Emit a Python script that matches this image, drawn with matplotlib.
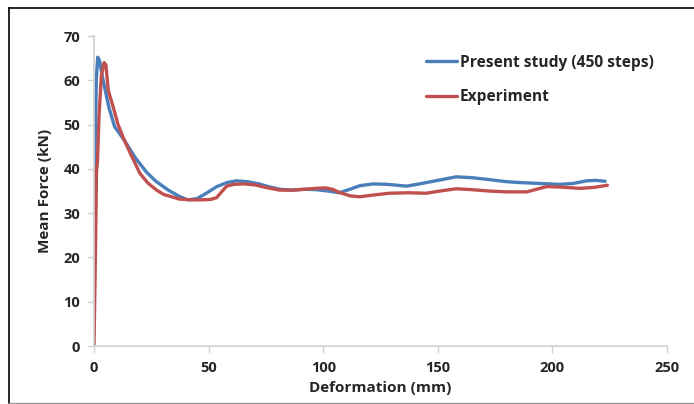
import numpy as np
import matplotlib.pyplot as plt
from matplotlib.lines import Line2D

# data
study_x = [0, 0.5, 1.0, 1.6, 2.4, 3.4, 5, 6.5, 9, 13.2, 18, 23, 27, 32.4, 37.5, 41, 45, 49,
           53.6, 58, 62, 67, 72, 76, 81, 86, 92, 97, 102, 107, 111.7, 116, 121.8, 128, 136.4,
           143, 150, 158, 165, 172, 180, 186, 194.6, 203, 209, 215, 219, 223]
study_y = [29.2, 45, 60, 65.2, 64.5, 61.5, 57.5, 53.9, 49.5, 46.5, 42.5, 39.2, 37.2, 35.2, 33.7,
           33.0, 33.3, 34.5, 36.0, 36.9, 37.3, 37.1, 36.6, 36.0, 35.4, 35.2, 35.4, 35.3, 35.0,
           34.6, 35.4, 36.2, 36.6, 36.5, 36.1, 36.7, 37.4, 38.2, 38.0, 37.6, 37.1, 36.9, 36.7,
           36.5, 36.7, 37.3, 37.4, 37.2]
exp_x = [0, 0.6, 1.1, 1.5, 2.2, 3.2, 4.4, 5.2, 6.2, 8.4, 10.5, 13.2, 16.5, 20, 23.5, 27.3, 30.5,
         33.9, 37, 42, 47, 51, 53.5, 56, 57.9, 61, 65, 70, 75, 81, 87, 92, 97, 101, 104, 107,
         111.7, 116, 122, 129, 137, 145, 151, 158, 165, 172, 180, 188.8, 194.6, 197.5, 203, 212,
         218, 224]
exp_y = [0, 20, 39.7, 41.5, 52, 61, 64.0, 63.5, 57.8, 53.9, 50, 46.5, 42.8, 39.0, 36.8, 35.2,
         34.2, 33.7, 33.2, 33.0, 33.0, 33.1, 33.5, 35.0, 36.1, 36.5, 36.6, 36.4, 35.8, 35.2, 35.2,
         35.4, 35.6, 35.7, 35.4, 34.7, 33.9, 33.7, 34.1, 34.5, 34.6, 34.5, 35.0, 35.5, 35.3, 35.0,
         34.8, 34.8, 35.6, 36.0, 35.9, 35.6, 35.8, 36.3]
labels = ["Present study (450 steps)", "Experiment"]
xticks = [0, 50, 100, 150, 200, 250]
yticks = [0, 10, 20, 30, 40, 50, 60, 70]

plt.rcParams['font.family'] = ['Open Sans', 'DejaVu Sans']
plt.rcParams['font.weight'] = 'bold'
txt = '#262626'
grey = '#d0d0d0'

fig = plt.figure(figsize=(6.94, 4.04), dpi=100)
ax = fig.add_axes([94/694, 1-346/404, 573/694, 310/404])

ax.plot(study_x, study_y, color='#4a7ebb', lw=2.4, label=labels[0],
        solid_capstyle='round', solid_joinstyle='round')
ax.plot(exp_x, exp_y, color='#c0504d', lw=2.4, label=labels[1],
        solid_capstyle='round', solid_joinstyle='round')

ax.set_xlim(0, 250)
ax.set_ylim(0, 70)
ax.set_xticks(xticks)
ax.set_yticks(yticks)
for s in ['top', 'right']:
    ax.spines[s].set_visible(False)
for s in ['left', 'bottom']:
    ax.spines[s].set_color(grey)
    ax.spines[s].set_linewidth(1.2)
ax.tick_params(colors=grey, labelcolor=txt, labelsize=10.5, length=5, width=1.0, direction='out')
ax.tick_params(axis='x', pad=6)
ax.tick_params(axis='y', pad=5)
for t in ax.get_xticklabels() + ax.get_yticklabels():
    t.set_fontweight('bold')

ax.set_xlabel("Deformation (mm)", fontsize=11, fontweight='bold', color=txt, labelpad=4)
ax.set_ylabel("Mean Force (kN)", fontsize=11, fontweight='bold', color=txt, labelpad=8)

ax.legend(loc='upper left', bbox_to_anchor=(418/694, 1-47/404), bbox_transform=fig.transFigure,
          frameon=False, fontsize=11.2, handlelength=2.0, handletextpad=0.2, labelspacing=1.2,
          borderpad=0, labelcolor=txt)

# frame around the picture
fig.add_artist(Line2D([9/694, 1], [1-8/404, 1-8/404], color='black', lw=1.2))
fig.add_artist(Line2D([9/694, 9/694], [1-8/404, 1.5/404], color='black', lw=1.2))
fig.add_artist(Line2D([9/694, 1], [1.5/404, 1.5/404], color='#999999', lw=1.0))

fig.savefig('out.png', dpi=100)
